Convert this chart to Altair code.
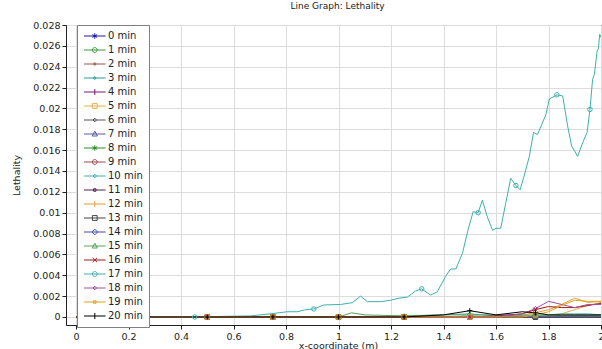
import altair as alt
import pandas as pd

series = ["0 min", "1 min", "2 min", "3 min", "4 min", "5 min", "6 min", "7 min",
          "8 min", "9 min", "10 min", "11 min", "12 min", "13 min", "14 min",
          "15 min", "16 min", "17 min", "18 min", "19 min", "20 min"]

colors = ["#1c1ca0", "#3a9a3a", "#a05050", "#2a9a9a", "#7a1a7a", "#e0b050", "#555555",
          "#5a5aa0", "#2a8a2a", "#a04848", "#40b0b0", "#502050", "#e0a030", "#444444",
          "#4848b0", "#5aa05a", "#a01818", "#3fb0b0", "#a050a0", "#e0a020", "#000000"]

# common x grid for the small series
x_grid = [0, 0.25, 0.5, 0.75, 1.0, 1.05, 1.1, 1.25, 1.4, 1.5, 1.6, 1.7, 1.75, 1.8, 1.85, 1.9, 1.95, 2.0]

y_00 = [0, 0, 0, 0, 0, 0, 0, 0, 0, 0, 0, 0, 0, 0, 0, 0, 0, 0]
y_01 = [0, 0, 0, 0, 0, 0, 0, 0, 0, 0, 0.0001, 0.0001, 0.0001, 0.0001, 0.0001, 0.0001, 0.0001, 0.0001]
y_02 = [0, 0, 0, 0, 0, 0, 0, 0, 0, 0, 0, 0, 0, 0.0001, 0.0001, 0.0001, 0.0001, 0.0001]
y_03 = [0, 0, 0, 0, 0, 0, 0, 0, 0, 0, 0, 0, 0, 0, 0, 0, 0, 0]
y_04 = [0, 0, 0, 0, 0, 0, 0, 0, 0, 0, 0, 0, 0, 0, 0, 0.0001, 0.0001, 0.0001]
y_05 = [0, 0, 0, 0, 0, 0, 0, 0, 0, 0, 0, 0, 0, 0.0001, 0.0003, 0.0007, 0.0011, 0.0014]
y_06 = [0, 0, 0, 0, 0, 0, 0, 0, 0, 0, 0, 0, 0, 0, 0, 0, 0, 0]
y_07 = [0, 0, 0, 0, 0, 0, 0, 0, 0, 0, 0, 0, 0, 0, 0, 0, 0, 0]
y_08 = [0, 0, 0, 0, 0, 0, 0, 0, 0, 0.0001, 0, 0, 0, 0, 0, 0, 0, 0]
y_09 = [0, 0, 0, 0, 0, 0, 0, 0, 0, 0, 0, 0, 0, 0, 0, 0, 0, 0]
y_10 = [0, 0, 0, 0, 0, 0, 0, 0.0001, 0.0002, 0.0002, 0.0002, 0.0002, 0.0002, 0.0002, 0.0003, 0.0003, 0.0003, 0.0002]
y_11 = [0, 0, 0, 0, 0, 0, 0, 0, 0, 0, 0, 0, 0, 0, 0, 0, 0, 0]
y_12 = [0, 0, 0, 0, 0, 0, 0, 0, 0, 0, 0, 0.0002, 0.0004, 0.0007, 0.0012, 0.0018, 0.0014, 0.0015]
y_13 = [0, 0, 0, 0, 0, 0, 0, 0, 0, 0, 0, 0, 0, 0, 0, 0, 0, 0]
y_14 = [0, 0, 0, 0, 0, 0, 0, 0, 0, 0, 0, 0, 0, 0, 0, 0, 0, 0]
y_15 = [0, 0, 0, 0, 0, 0.0004, 0.0002, 0.0001, 0.0002, 0.0003, 0.0001, 0.0001, 0.0001, 0.0001, 0.0001, 0.0001, 0.0001, 0.0001]
y_16 = [0, 0, 0, 0, 0, 0, 0, 0, 0, 0, 0.0001, 0.0003, 0.0007, 0.0010, 0.0009, 0.0009, 0.0011, 0.0013]
y_18 = [0, 0, 0, 0, 0, 0, 0, 0, 0, 0, 0, 0.0003, 0.0008, 0.0015, 0.0012, 0.0009, 0.0012, 0.0012]
y_19 = [0, 0, 0, 0, 0, 0, 0, 0, 0, 0, 0, 0, 0.0002, 0.0005, 0.0011, 0.0016, 0.0015, 0.0015]
y_20 = [0, 0, 0, 0, 0, 0, 0, 0, 0.0002, 0.0006, 0.0002, 0.0005, 0.0004, 0.0002, 0.0002, 0.0002, 0.0002, 0.0002]

# the large series (17 min)
big_x = [0, 0.452, 0.55, 0.664, 0.74, 0.804, 0.842, 0.87, 0.906, 0.944,
         1.008, 1.052, 1.084, 1.11, 1.16, 1.198, 1.23, 1.262, 1.294, 1.317,
         1.351, 1.376, 1.408, 1.427, 1.447, 1.472, 1.494, 1.513, 1.532, 1.548,
         1.567, 1.587, 1.6, 1.618, 1.637, 1.656, 1.676, 1.692, 1.707, 1.727,
         1.743, 1.758, 1.79, 1.803, 1.832, 1.854, 1.873, 1.888, 1.911, 1.93,
         1.947, 1.958, 1.968, 1.975, 1.985, 1.99, 1.995, 2.0]
big_y = [0, 0, 0.00005, 0.0001, 0.0003, 0.0005, 0.0005, 0.00067, 0.00077, 0.00115,
         0.0012, 0.00137, 0.002, 0.00147, 0.00147, 0.0016, 0.0018, 0.0019, 0.0025, 0.0027,
         0.0021, 0.0024, 0.0039, 0.0046, 0.0046, 0.0061, 0.0084, 0.0101, 0.0100, 0.0112,
         0.0096, 0.0083, 0.0085, 0.0085, 0.0109, 0.0133, 0.0126, 0.0122, 0.0135, 0.0154,
         0.0177, 0.0175, 0.0194, 0.0209, 0.0213, 0.0212, 0.0183, 0.0164, 0.0154, 0.0167,
         0.0177, 0.0199, 0.0228, 0.0233, 0.0255, 0.0257, 0.0271, 0.0268]

small_marker_x = [0.5, 0.75, 1.0, 1.25, 1.5, 1.75]
big_marker_x = [0.452, 0.906, 1.317, 1.532, 1.676, 1.832, 1.958]

x_ticks = [0, 0.2, 0.4, 0.6, 0.8, 1.0, 1.2, 1.4, 1.6, 1.8, 2.0]
y_ticks = [0, 0.002, 0.004, 0.006, 0.008, 0.01, 0.012, 0.014, 0.016, 0.018, 0.02,
           0.022, 0.024, 0.026, 0.028]

# ---- marker styles ----
AST = "M0,-1.1V1.1M-0.95,-0.55L0.95,0.55M-0.95,0.55L0.95,-0.55"
PLUS = "M0,-1.15V1.15M-1.15,0H1.15"
XM = "M-0.9,-0.9L0.9,0.9M-0.9,0.9L0.9,-0.9"
plot_shapes = [AST, "circle", "circle", "circle", PLUS, "square", "diamond", "triangle-up",
               AST, "circle", "diamond", "square", PLUS, "square", "diamond", "triangle-up",
               XM, "circle", "diamond", "square", PLUS]

LINE = "M-1,0H4.4"
L_AST = LINE + "M1.7,-0.7V0.7M1.1,-0.35L2.3,0.35M1.1,0.35L2.3,-0.35"
L_CIR = LINE + "M1.1,0A0.6,0.6,0,1,0,2.3,0A0.6,0.6,0,1,0,1.1,0"
L_DOT = LINE + "M1.4,0A0.3,0.3,0,1,0,2.0,0A0.3,0.3,0,1,0,1.4,0"
L_PLUS = LINE + "M1.7,-0.75V0.75"
L_SQ = LINE + "M1.1,-0.6H2.3V0.6H1.1Z"
L_SSQ = LINE + "M1.4,-0.3H2.0V0.3H1.4Z"
L_DIA = LINE + "M1.7,-0.7L2.4,0L1.7,0.7L1.0,0Z"
L_SDIA = LINE + "M1.7,-0.45L2.15,0L1.7,0.45L1.25,0Z"
L_TRI = LINE + "M1.7,-0.7L2.35,0.5H1.05Z"
L_X = LINE + "M1.15,-0.55L2.25,0.55M1.15,0.55L2.25,-0.55"
legend_shapes = [L_AST, L_CIR, L_DOT, L_DOT, L_PLUS, L_SQ, L_SDIA, L_TRI,
                 L_AST, L_CIR, L_SDIA, L_SSQ, L_PLUS, L_SQ, L_DIA, L_TRI,
                 L_X, L_CIR, L_SDIA, L_SSQ, L_PLUS]

y_lists = [y_00, y_01, y_02, y_03, y_04, y_05, y_06, y_07, y_08, y_09, y_10,
           y_11, y_12, y_13, y_14, y_15, y_16, None, y_18, y_19, y_20]

rows = []
for i, s in enumerate(series):
    if y_lists[i] is None:
        xs, ys, mk = big_x, big_y, big_marker_x
    else:
        xs, ys, mk = x_grid, y_lists[i], small_marker_x
    for xv, yv in zip(xs, ys):
        rows.append({"series": s, "x": xv, "y": yv, "m": xv in mk, "mshape": plot_shapes[i]})
df = pd.DataFrame(rows)

FONT = "DejaVu Sans"
xscale = alt.Scale(domain=[-0.0382, 2.0], nice=False, zero=False)
yscale = alt.Scale(domain=[-0.00077, 0.028], nice=False, zero=False)
color_scale = alt.Scale(domain=series, range=colors)

X = alt.X("x:Q", scale=xscale,
          axis=alt.Axis(values=x_ticks, format="~g", title="x-coordinate (m)", grid=True,
                        tickSize=4, labelPadding=2, titlePadding=0, titleX=272,
                        labelFlush=False))
Y = alt.Y("y:Q", scale=yscale,
          axis=alt.Axis(values=y_ticks, format="~g", title="Lethality", grid=True,
                        tickSize=4, labelPadding=2, titlePadding=11, labelFlush=False))

leg = alt.Legend(title=None, orient="none", legendX=11, legendY=0, padding=6,
                 fillColor="white", strokeColor="#808080", symbolSize=64,
                 symbolStrokeWidth=1, labelFontSize=10, labelFont=FONT,
                 labelColor="#222222", labelOffset=15, rowPadding=4,
                 direction="vertical")

base = alt.Chart(df)

lines = base.mark_line(strokeWidth=1, clip=True).encode(
    x=X, y=Y,
    color=alt.Color("series:N", scale=color_scale, legend=leg),
    detail="series:N",
)

points = base.transform_filter("datum.m").mark_point(
    filled=False, size=20, strokeWidth=1, opacity=1, clip=True
).encode(
    x=X, y=Y,
    color=alt.Color("series:N", scale=color_scale, legend=leg),
    shape=alt.Shape("mshape:N", scale=None),
)

legend_layer = base.transform_filter("datum.x < -1").mark_point(
    filled=False, strokeWidth=1, opacity=1
).encode(
    x=X, y=Y,
    color=alt.Color("series:N", scale=color_scale, legend=leg),
    shape=alt.Shape("series:N", scale=alt.Scale(domain=series, range=legend_shapes), legend=leg),
)

chart = alt.layer(lines, points, legend_layer).properties(
    width=535, height=300,
    autosize=alt.AutoSizeParams(type="none"),
    padding={"left": 66, "top": 25, "right": 1, "bottom": 24},
    title=alt.TitleParams("Line Graph: Lethality", fontSize=9, fontWeight="normal",
                          font=FONT, color="#222222", offset=9, dx=4, anchor="middle"),
).configure_axis(
    labelFont=FONT, titleFont=FONT, labelFontSize=9.5, titleFontSize=9.5,
    titleFontWeight="normal", labelColor="#222222", titleColor="#222222",
    domainColor="#222222", tickColor="#222222", gridColor="#dcdcdc", gridWidth=1,
).configure_view(stroke="#333333", strokeWidth=1)

chart.save("out.html", embed_options={"renderer": "svg", "actions": False})
